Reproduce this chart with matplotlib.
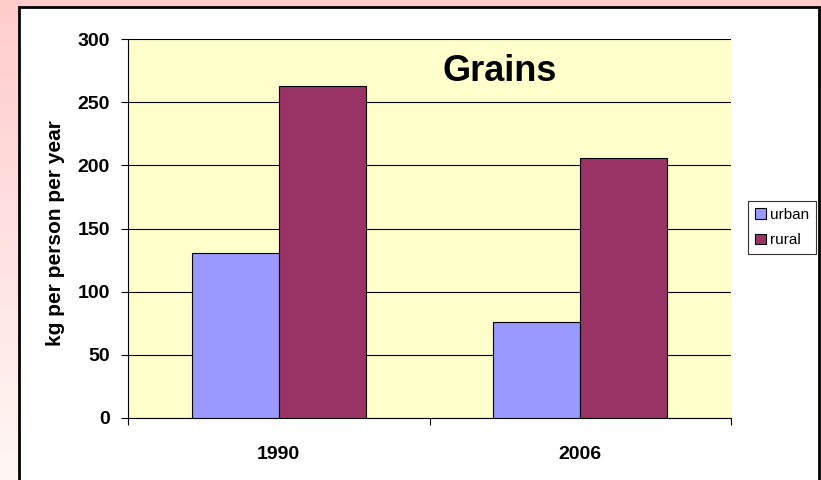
import numpy as np
import matplotlib
matplotlib.use("Agg")
import matplotlib.pyplot as plt
from matplotlib.patches import Rectangle

categories = ["1990", "2006"]
urban = [131, 76]
rural = [263, 206]
series_names = ["urban", "rural"]
yticks = [0, 50, 100, 150, 200, 250, 300]

W, H = 821, 480
fig = plt.figure(figsize=(W / 100, H / 100), dpi=100)

# pink gradient background
bg = fig.add_axes([0, 0, 1, 1], zorder=-10)
grad = np.linspace(0, 1, 256).reshape(-1, 1)
top = np.array([1.0, 0.80, 0.80])
bot = np.array([1.0, 0.97, 0.96])
img = top[None, None, :] * (1 - grad[:, :, None]) + bot[None, None, :] * grad[:, :, None]
bg.imshow(img, aspect="auto", extent=[0, W, 0, H], origin="upper")
bg.set_xlim(0, W)
bg.set_ylim(0, H)
bg.axis("off")
# white chart area with border (pixel coords, y from bottom)
bg.add_patch(Rectangle((19, -5), 800, H - 7 + 5, facecolor="white",
                       edgecolor="black", linewidth=2, zorder=2))

def px(x0, y0, x1, y1):
    return [x0 / W, 1 - y1 / H, (x1 - x0) / W, (y1 - y0) / H]

FONT = "Liberation Sans"
ax = fig.add_axes(px(128, 39, 731, 418))
ax.set_facecolor("#FFFFCC")
x = np.arange(len(categories))
bw = 0.288
ax.bar(x - bw / 2, urban, bw, color="#9999FF", edgecolor="black", linewidth=0.8,
       label=series_names[0], zorder=3)
ax.bar(x + bw / 2, rural, bw, color="#993366", edgecolor="black", linewidth=0.8,
       label=series_names[1], zorder=3)
ax.set_xlim(-0.5, len(categories) - 0.5)
ax.set_ylim(0, 300)
ax.set_yticks(yticks)
ax.set_yticklabels([str(v) for v in yticks], fontsize=14, fontweight="bold", family=FONT)
ax.set_xticks([-0.5, 0.5, 1.5], minor=True)
ax.set_xticks(x)
ax.set_xticklabels(categories, fontsize=14, fontweight="bold", family=FONT)
ax.tick_params(axis="x", which="major", length=0, pad=20)
ax.tick_params(axis="x", which="minor", length=5, color="black", width=0.8)
ax.tick_params(axis="y", length=5, width=0.8, pad=8)
ax.grid(axis="y", color="black", linewidth=0.8, zorder=1)
ax.set_axisbelow(True)
for s in ["top", "right"]:
    ax.spines[s].set_visible(False)
ax.spines["left"].set_linewidth(0.8)
ax.spines["bottom"].set_linewidth(0.8)
ax.set_ylabel("kg per person per year", fontsize=15, fontweight="bold", family=FONT)
ax.yaxis.set_label_coords(-0.104, 0.487)
ax.text(0.617, 0.915, "Grains", transform=ax.transAxes, ha="center", va="center",
        fontsize=26, fontweight="bold", family=FONT)

leg = fig.legend(loc="upper left", bbox_to_anchor=(748 / W, 1 - 201 / H),
                 prop={"family": FONT, "size": 11},
                 frameon=True, fancybox=False, edgecolor="black",
                 handlelength=0.7, handleheight=0.7, handletextpad=0.3,
                 borderpad=0.45, labelspacing=0.75, borderaxespad=0)
leg.get_frame().set_linewidth(0.8)

fig.savefig("out.png", dpi=100)
